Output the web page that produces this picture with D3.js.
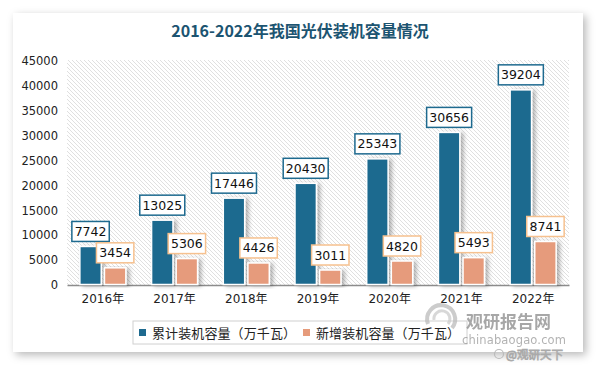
<!DOCTYPE html>
<html><head><meta charset="utf-8">
<script src="https://cdn.jsdelivr.net/npm/d3@7"></script>
<style>html,body{margin:0;padding:0;background:#fff;}svg{display:block;}</style>
</head><body>
<script>
const categories = ["2016年","2017年","2018年","2019年","2020年","2021年","2022年"];
const cumulative = [7742, 13025, 17446, 20430, 25343, 30656, 39204];
const added = [3454, 5306, 4426, 3011, 4820, 5493, 8741];
const seriesNames = ["累计装机容量（万千瓦）","新增装机容量（万千瓦）"];
const yTicks = [0,5000,10000,15000,20000,25000,30000,35000,40000,45000];
const title = "2016-2022年我国光伏装机容量情况";

const W = 600, H = 365;
const colors = ["#1E6A8F", "#E69B7B"];
const borders = ["#1E6A8F", "#F6C18F"];
const plot = {l: 67, r: 569, t: 60, b: 285};

const svg = d3.select("body").append("svg").attr("width", W).attr("height", H);
const defs = svg.append("defs");
const cardSh = defs.append("filter").attr("id","cardsh").attr("x","-10%").attr("y","-10%").attr("width","120%").attr("height","120%");
cardSh.append("feDropShadow").attr("dx",3).attr("dy",3).attr("stdDeviation",4).attr("flood-color","#000").attr("flood-opacity",0.28);
const barSh = defs.append("filter").attr("id","barsh").attr("x","-20%").attr("y","-10%").attr("width","160%").attr("height","130%");
barSh.append("feDropShadow").attr("dx",3).attr("dy",1).attr("stdDeviation",2).attr("flood-color","#000").attr("flood-opacity",0.3);
const pat = defs.append("pattern").attr("id","hatch").attr("patternUnits","userSpaceOnUse").attr("width",4).attr("height",4);
pat.append("rect").attr("width",4).attr("height",4).attr("fill","#fff");
pat.append("path").attr("d","M-1,-1 L5,5 M-1,3 L1,5 M3,-1 L5,1").attr("stroke","#e0e0e0").attr("stroke-width",1);

// card
svg.append("rect").attr("x",13).attr("y",13).attr("width",570).attr("height",339).attr("fill","#fff").attr("filter","url(#cardsh)");

// title
svg.append("text").attr("x",300).attr("y",37).attr("text-anchor","middle")
  .attr("font-family","'Noto Sans CJK SC', sans-serif").attr("font-weight","bold").attr("font-size",16)
  .attr("fill","#1C5471").text(title);

// plot background
svg.append("rect").attr("x",plot.l).attr("y",plot.t).attr("width",plot.r-plot.l).attr("height",plot.b-plot.t).attr("fill","url(#hatch)");

const x0 = d3.scaleBand().domain(categories).range([plot.l, plot.r]).paddingInner(0).paddingOuter(0);
const x1 = d3.scaleBand().domain([0,1]).range([0,46]).paddingInner(0.13);
const y = d3.scaleLinear().domain([0,45000]).range([plot.b, plot.t + 1]);

// y axis
const yAxis = svg.append("g").attr("transform",`translate(${plot.l},0)`)
  .call(d3.axisLeft(y).tickValues(yTicks).tickSize(0).tickPadding(9).tickFormat(d3.format("d")));
yAxis.select(".domain").remove();
yAxis.selectAll("text").attr("font-family","'DejaVu Sans', sans-serif").attr("font-size",11.5).attr("fill","#222");

// x axis
const xAxis = svg.append("g").attr("transform",`translate(0,${plot.b})`)
  .call(d3.axisBottom(x0).tickSize(0).tickPadding(9));
xAxis.select(".domain").attr("stroke","#8c8c8c").attr("stroke-width",1.5);
xAxis.selectAll("text").attr("font-family","'DejaVu Sans', 'Noto Sans CJK SC', sans-serif").attr("font-size",12).attr("fill","#222");

const series = [cumulative, added];
series.forEach((vals, si) => {
  const g = svg.append("g");
  const cx = c => x0(c) + x0.bandwidth()/2 - 23 + x1(si);
  g.selectAll("rect").data(vals).join("rect")
    .attr("x",(d,i)=>cx(categories[i]))
    .attr("y",d=>y(d))
    .attr("width",x1.bandwidth())
    .attr("height",d=>plot.b - y(d) - 0.5)
    .attr("fill",colors[si]).attr("stroke","#fff").attr("stroke-width",1.5)
    .attr("filter","url(#barsh)");
  const lg = svg.append("g");
  vals.forEach((d,i) => {
    const mx = cx(categories[i]) + x1.bandwidth()/2;
    const txt = String(d);
    const bw = txt.length*7.6 + 7;
    const bh = 20;
    const by = y(d) - 5 - bh;
    lg.append("rect").attr("x",mx - bw/2).attr("y",by).attr("width",bw).attr("height",bh)
      .attr("fill","#fff").attr("stroke",borders[si]).attr("stroke-width",1.5);
    lg.append("text").attr("x",mx).attr("y",by+14.5).attr("text-anchor","middle")
      .attr("font-family","'DejaVu Sans', sans-serif").attr("font-size",12.5).attr("fill","#111").text(txt);
  });
});

// legend
const leg = svg.append("g");
leg.append("rect").attr("x",133).attr("y",321).attr("width",334).attr("height",23).attr("fill","#fff").attr("stroke","#d0d0d0").attr("stroke-width",1);
const legX = [139, 303];
seriesNames.forEach((n,i)=>{
  leg.append("rect").attr("x",legX[i]).attr("y",329).attr("width",7).attr("height",7).attr("fill",colors[i]);
  leg.append("text").attr("x",legX[i]+13).attr("y",337.5).attr("font-family","'Noto Sans CJK SC', sans-serif")
    .attr("font-size",13).attr("fill","#222").attr("letter-spacing",0.1).text(n);
});

// watermark (drawn over the legend like the reference)
const wm = svg.append("g").attr("opacity",0.75);
wm.append("path").attr("d","M428,324 A14,14 0 1,1 452,328").attr("fill","none").attr("stroke","#bbb").attr("stroke-width",4);
wm.append("path").attr("d","M434,320 A8,8 0 1,1 448,324").attr("fill","none").attr("stroke","#ccc").attr("stroke-width",3);
wm.append("text").attr("x",466).attr("y",328).attr("font-family","'Noto Sans CJK SC', sans-serif").attr("font-weight","bold")
  .attr("font-size",17).attr("fill","#8a8a8a").text("观研报告网");
wm.append("text").attr("x",462).attr("y",344).attr("font-family","'DejaVu Sans', sans-serif")
  .attr("font-size",11.5).attr("fill","#999").attr("textLength",104).text("chinabaogao.com");

const wm2 = svg.append("g");
wm2.append("circle").attr("cx",499).attr("cy",354).attr("r",4.5).attr("fill","none").attr("stroke","#bbb").attr("stroke-width",1.2);
wm2.append("text").attr("x",506).attr("y",359).attr("font-family","'Noto Sans CJK SC', sans-serif")
  .attr("font-size",11.5).attr("fill","#fff").attr("stroke","#aaa").attr("stroke-width",0.8).text("@观研天下");
</script>
</body></html>
